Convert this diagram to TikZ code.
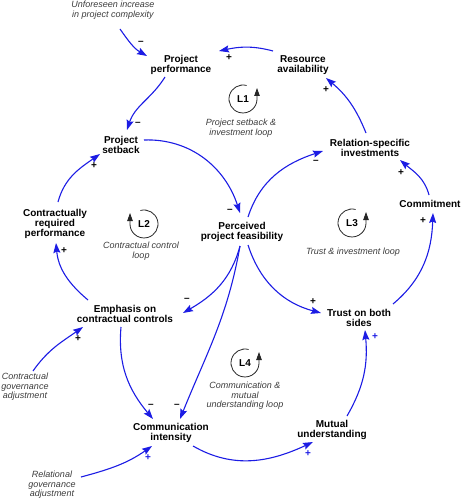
\documentclass[tikz,border=0pt]{standalone}
\usepackage{fontspec}
\setmainfont{Liberation Sans}
\usetikzlibrary{arrows.meta}
\definecolor{cldblue}{RGB}{28,28,228}
\definecolor{lblgray}{RGB}{60,60,60}
\begin{document}
\begin{tikzpicture}[x=1pt,y=1pt,
  var/.style={font=\bfseries\fontsize{10}{10}\selectfont, align=center, inner sep=1pt, text=black},
  ext/.style={font=\itshape\fontsize{9}{9.5}\selectfont, align=center, inner sep=1pt, text=lblgray},
  link/.style={draw=cldblue, line width=1.1pt, -{Stealth[length=10pt,width=7pt,inset=1.5pt]}},
  sgn/.style={font=\bfseries\fontsize{10}{10}\selectfont, inner sep=0pt, text=black},
  bsgn/.style={sgn, text=cldblue},
  looptag/.style={font=\bfseries\fontsize{10}{10}\selectfont, inner sep=0pt},
  loopc/.style={draw=black!85, line width=0.8pt, -{Triangle[length=8pt,width=5.5pt]}},
]
\useasboundingbox (0,0) rectangle (463,-500);

% variables
\node[ext] (uf)   at (113,-10)  {Unforeseen increase\\in project complexity};
\node[var] (pp)   at (181,-65)  {Project\\performance};
\node[var] (ra)   at (303,-65)  {Resource\\availability};
\node[var] (pset) at (121,-145) {Project\\setback};
\node[var] (rsi)  at (370,-148) {Relation-specific\\investments};
\node[var] (crp)  at (55,-224)  {Contractually\\required\\performance};
\node[var] (ppf)  at (242,-232) {Perceived\\project feasibility};
\node[var] (com)  at (430,-204) {Commitment};
\node[var] (ecc)  at (125,-314) {Emphasis on\\contractual controls};
\node[var] (tbs)  at (359,-318) {Trust on both\\sides};
\node[ext] (cga)  at (25,-387)  {Contractual\\governance\\adjustment};
\node[var] (ci)   at (171,-433) {Communication\\intensity};
\node[var] (mu)   at (332,-430) {Mutual\\understanding};
\node[ext] (rga)  at (52,-485)  {Relational\\governance\\adjustment};

% loop markers
\node[looptag] (l1) at (243,-99) {L1};
\draw[loopc] ([shift={(75:14)}]l1.center) arc (75:360:14) -- ++(0,11);
\node[ext] (l1t) at (241,-128) {Project setback \&\\investment loop};

\node[looptag] (l2) at (144,-224) {L2};
\draw[loopc] ([shift={(105:14)}]l2.center) arc (105:-180:14) -- ++(0,11);
\node[ext] (l2t) at (141,-251) {Contractual control\\loop};

\node[looptag] (l3) at (352,-223) {L3};
\draw[loopc] ([shift={(75:14)}]l3.center) arc (75:360:14) -- ++(0,11);
\node[ext] (l3t) at (353,-252) {Trust \& investment loop};

\node[looptag] (l4) at (245,-363) {L4};
\draw[loopc] ([shift={(75:14)}]l4.center) arc (75:360:14) -- ++(0,11);
\node[ext] (l4t) at (245,-396) {Communication \&\\mutual\\understanding loop};

% links
\draw[link] ([shift={(7,-19)}]uf.center) to[out=-55,in=150] ([shift={(-34,9)}]pp.center);
\draw[link] ([shift={(-30,14)}]ra.center) to[out=165,in=12] ([shift={(38,14)}]pp.center);
\draw[link] ([shift={(-16,-12)}]pp.center) to[out=-122,in=72] ([shift={(6,15)}]pset.center);
\draw[link] ([shift={(23,5)}]pset.center) to[out=2,in=108] ([shift={(-2,19)}]ppf.center);
\draw[link] ([shift={(-4,15)}]rsi.center) to[out=112,in=-40] ([shift={(23,-13)}]ra.center);
\draw[link] ([shift={(6,15)}]ppf.center) to[out=72,in=198] ([shift={(-47,-3)}]rsi.center);
\draw[link] ([shift={(-1,9)}]com.center) to[out=105,in=-40] ([shift={(30,-12)}]rsi.center);
\draw[link] ([shift={(34,14)}]tbs.center) to[out=40,in=-92] ([shift={(3,-9)}]com.center);
\draw[link] ([shift={(6,-13)}]ppf.center) to[out=-72,in=165] ([shift={(-38,5)}]tbs.center);
\draw[link] ([shift={(-2,-14)}]ppf.center) to[out=-105,in=30] ([shift={(58,1)}]ecc.center);
\draw[link] ([shift={(-2,-14)}]ppf.center) to[out=-100,in=68] ([shift={(9,14)}]ci.center);
\draw[link] ([shift={(-37,14)}]ecc.center) to[out=140,in=-85] ([shift={(1,-19)}]crp.center);
\draw[link] ([shift={(3,22)}]crp.center) to[out=75,in=-145] ([shift={(-21,-9)}]pset.center);
\draw[link] ([shift={(-4,-13)}]ecc.center) to[out=-95,in=130] ([shift={(-18,14)}]ci.center);
\draw[link] ([shift={(8,16)}]cga.center) to[out=55,in=-145] ([shift={(-42,-13)}]ecc.center);
\draw[link] ([shift={(29,8)}]rga.center) to[out=15,in=-145] ([shift={(-19,-13)}]ci.center);
\draw[link] ([shift={(22,-13)}]ci.center) to[out=-30,in=-155] ([shift={(-19,-12)}]mu.center);
\draw[link] ([shift={(15,14)}]mu.center) to[out=60,in=-85] ([shift={(6,-12)}]tbs.center);

% polarity signs
\node[sgn] (s1)  at (141,-43)  {–};
\node[sgn] (s2)  at (229,-58)  {+};
\node[sgn] (s3)  at (138,-124) {–};
\node[sgn] (s4)  at (230,-211) {–};
\node[sgn] (s5)  at (326,-90)  {+};
\node[sgn] (s6)  at (316,-162) {–};
\node[sgn] (s7)  at (401,-173) {+};
\node[sgn] (s8)  at (423,-221) {+};
\node[sgn] (s9)  at (313,-302) {+};
\node[sgn] (s10) at (187,-300) {–};
\node[sgn] (s11) at (177,-406) {–};
\node[sgn] (s12) at (64,-251)  {+};
\node[sgn] (s13) at (94,-166)  {+};
\node[sgn] (s14) at (151,-406) {–};
\node[sgn] (s15) at (78,-339)  {+};
\node[bsgn] (s16) at (148,-458) {+};
\node[bsgn] (s17) at (308,-454) {+};
\node[bsgn] (s18) at (375,-337) {+};
\end{tikzpicture}
\end{document}
